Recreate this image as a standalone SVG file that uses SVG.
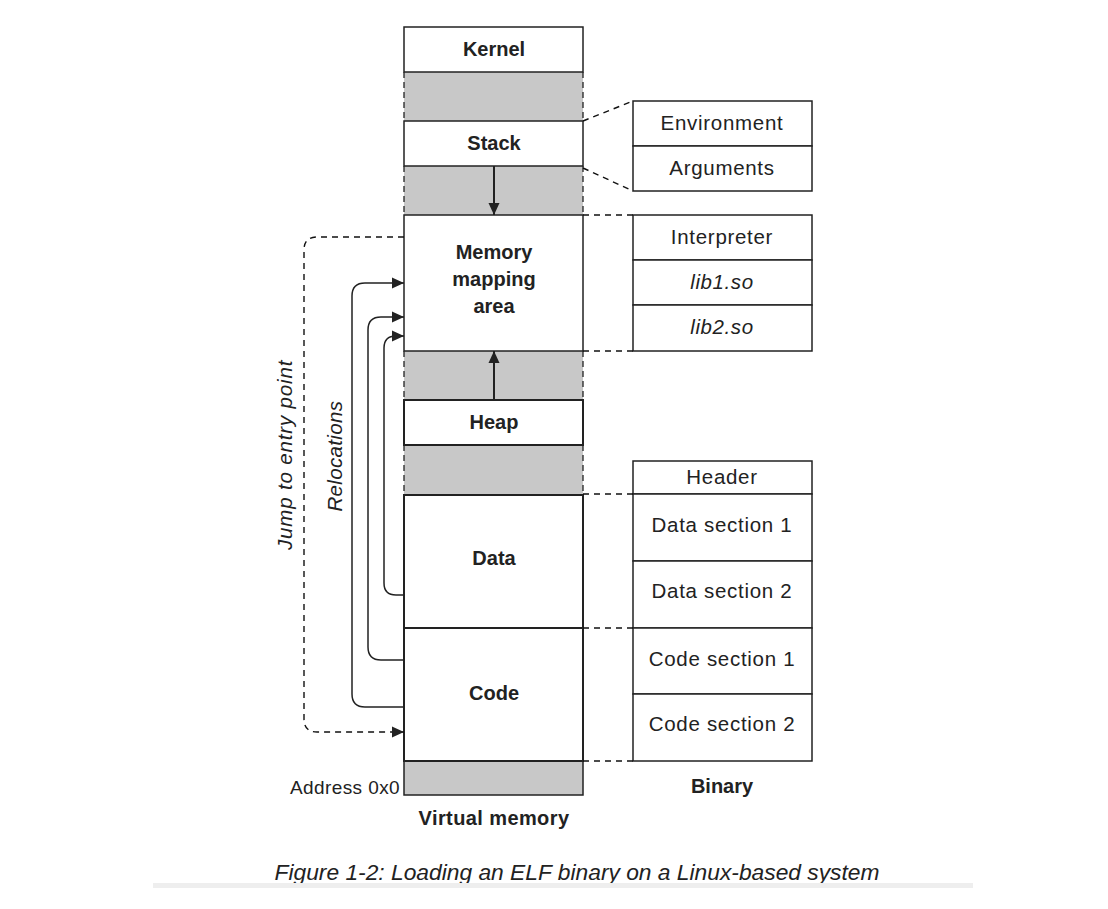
<svg xmlns="http://www.w3.org/2000/svg" width="1108" height="909" viewBox="0 0 1108 909">
<style>
.w{fill:#fff;stroke:#222;stroke-width:1.5}
.g{fill:#c8c8c8;stroke:none}
.gs{stroke:#222;stroke-width:1.3;stroke-dasharray:6 4;fill:none}
.b{font-family:"Liberation Sans",Arial,sans-serif;font-weight:bold;font-size:20px;fill:#222;text-anchor:middle}
.n{font-family:"Liberation Sans",Arial,sans-serif;font-size:20.5px;letter-spacing:0.7px;fill:#222;text-anchor:middle}
.i{font-family:"Liberation Sans",Arial,sans-serif;font-style:italic;font-size:20.5px;letter-spacing:0.6px;fill:#222;text-anchor:middle}
.ln{fill:none;stroke:#222;stroke-width:1.5}
.dl{fill:none;stroke:#111;stroke-width:1.4;stroke-dasharray:6 5}
</style>
<defs>
<marker id="ah" viewBox="0 0 12 12" refX="12" refY="6" markerWidth="12" markerHeight="12" markerUnits="userSpaceOnUse" orient="auto">
<path d="M0,0.5 L12,6 L0,11.5 z" fill="#222"/>
</marker>
</defs>
<rect width="1108" height="909" fill="#fff"/>

<g id="virtual-memory">
<rect class="g" x="404" y="72" width="179" height="49"/>
<line class="gs" x1="404" y1="72" x2="404" y2="121"/><line class="gs" x1="583" y1="72" x2="583" y2="121"/>
<rect class="g" x="404" y="166" width="179" height="49"/>
<line class="gs" x1="404" y1="166" x2="404" y2="215"/><line class="gs" x1="583" y1="166" x2="583" y2="215"/>
<rect class="g" x="404" y="351" width="179" height="49"/>
<line class="gs" x1="404" y1="351" x2="404" y2="400"/><line class="gs" x1="583" y1="351" x2="583" y2="400"/>
<rect class="g" x="404" y="445" width="179" height="50"/>
<line class="gs" x1="404" y1="445" x2="404" y2="495"/><line class="gs" x1="583" y1="445" x2="583" y2="495"/>
<rect class="g" x="404" y="761" width="179" height="34" style="stroke:#222;stroke-width:1.5"/>
</g>

<g id="kernel"><rect class="w" x="404" y="27" width="179" height="45"/><text class="b" x="494" y="56">Kernel</text></g>
<g id="stack"><rect class="w" x="404" y="121" width="179" height="45"/><text class="b" x="494" y="150">Stack</text></g>
<g id="mmap"><rect class="w" x="404" y="215" width="179" height="136"/>
<text class="b" x="494" y="259">Memory</text><text class="b" x="494" y="286">mapping</text><text class="b" x="494" y="313">area</text></g>
<g id="heap"><rect class="w" x="404" y="400" width="179" height="45" style="stroke-width:2"/><text class="b" x="494" y="429">Heap</text></g>
<g id="data"><rect class="w" x="404" y="495" width="179" height="133" style="stroke-width:2"/><text class="b" x="494" y="565">Data</text></g>
<g id="code"><rect class="w" x="404" y="628" width="179" height="133" style="stroke-width:2"/><text class="b" x="494" y="700">Code</text></g>

<g id="env-args">
<rect class="w" x="633" y="101" width="179" height="45"/><text class="n" x="722" y="130">Environment</text>
<rect class="w" x="633" y="146" width="179" height="45"/><text class="n" x="722" y="175">Arguments</text>
</g>
<g id="libs">
<rect class="w" x="633" y="215" width="179" height="45"/><text class="n" x="722" y="244">Interpreter</text>
<rect class="w" x="633" y="260" width="179" height="45"/><text class="i" x="722" y="289">lib1.so</text>
<rect class="w" x="633" y="305" width="179" height="46"/><text class="i" x="722" y="334">lib2.so</text>
</g>
<g id="binary">
<rect class="w" x="633" y="461" width="179" height="33"/><text class="n" x="722" y="484">Header</text>
<rect class="w" x="633" y="494" width="179" height="67"/><text class="n" x="722" y="532">Data section 1</text>
<rect class="w" x="633" y="561" width="179" height="67"/><text class="n" x="722" y="598">Data section 2</text>
<rect class="w" x="633" y="628" width="179" height="66"/><text class="n" x="722" y="666">Code section 1</text>
<rect class="w" x="633" y="694" width="179" height="67"/><text class="n" x="722" y="731">Code section 2</text>
</g>

<g id="connectors">
<line class="dl" x1="583" y1="121" x2="633" y2="101"/>
<line class="dl" x1="583" y1="168" x2="633" y2="191"/>
<line class="dl" x1="583" y1="215" x2="633" y2="215"/>
<line class="dl" x1="583" y1="351" x2="633" y2="351"/>
<line class="dl" x1="583" y1="494" x2="633" y2="494"/>
<line class="dl" x1="583" y1="628" x2="633" y2="628"/>
<line class="dl" x1="583" y1="761" x2="633" y2="761"/>
<line class="ln" x1="494" y1="166" x2="494" y2="215" marker-end="url(#ah)" style="stroke-width:2"/>
<line class="ln" x1="494" y1="400" x2="494" y2="351" marker-end="url(#ah)" style="stroke-width:2"/>
<path class="ln" d="M404,707 H365 Q352,707 352,694 V296 Q352,283 365,283 H404" marker-end="url(#ah)"/>
<path class="ln" d="M404,660 H381 Q368,660 368,647 V330 Q368,317 381,317 H404" marker-end="url(#ah)"/>
<path class="ln" d="M404,595 H396 Q384,595 384,583 V348 Q384,336 396,336 H404" marker-end="url(#ah)"/>
<path class="dl" d="M404,237 H317 Q304,237 304,250 V719 Q304,732 317,732 H404" marker-end="url(#ah)"/>
</g>

<g id="labels">
<text class="i" transform="translate(292,455) rotate(-90)" textLength="190" lengthAdjust="spacing">Jump to entry point</text>
<text class="i" transform="translate(342,456) rotate(-90)" textLength="111" lengthAdjust="spacing">Relocations</text>
<text class="n" x="400" y="794" style="text-anchor:end;font-size:19px;letter-spacing:0.4px">Address 0x0</text>
<text class="b" x="494" y="825" style="letter-spacing:0.4px">Virtual memory</text>
<text class="b" x="722" y="793">Binary</text>
<text class="i" x="577" y="880" style="font-size:21.5px;letter-spacing:0" textLength="605" lengthAdjust="spacingAndGlyphs">Figure 1-2: Loading an ELF binary on a Linux-based system</text>
<rect x="153" y="883" width="820" height="5" fill="#eeeeee"/>
</g>
</svg>
